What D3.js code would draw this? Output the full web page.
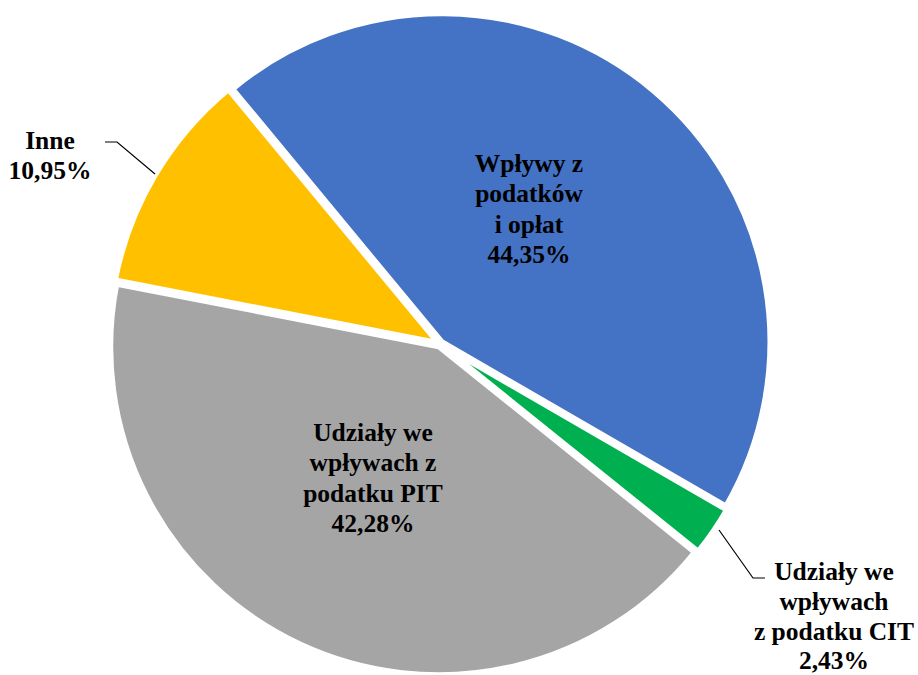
<!DOCTYPE html>
<html>
<head>
<meta charset="utf-8">
<script src="https://cdn.jsdelivr.net/npm/d3@7"></script>
<style>
  body { margin: 0; background: #fff; }
  text { font-family: "Liberation Serif", "Times New Roman", serif; font-weight: bold; }
</style>
</head>
<body>
<script>
// chart data
const categories = [
  "Wpływy z podatków i opłat",
  "Udziały we wpływach z podatku CIT",
  "Udziały we wpływach z podatku PIT",
  "Inne"
];
const values = [44.35, 2.43, 42.28, 10.95];
const labelLines = [
  ["Wpływy z", "podatków", "i opłat", "44,35%"],
  ["Udziały we", "wpływach", "z podatku CIT", "2,43%"],
  ["Udziały we", "wpływach z", "podatku PIT", "42,28%"],
  ["Inne", "10,95%"]
];
const colors = ["#4472C4", "#00B050", "#A5A5A5", "#FFC000"];

const svgWidth = 918,
  svgHeight = 675,
  cx = 440,
  cy = 344,
  radius = 328,
  explode = 3,
  lineH = 30.3;

const svg = d3.select('body')
  .append('svg')
  .attr('width', svgWidth)
  .attr('height', svgHeight);

const start = -39.6 * Math.PI / 180;
const pie = d3.pie()
  .sort(null)
  .startAngle(start)
  .endAngle(start + 2 * Math.PI);

const arcs = pie(values);
const arc = d3.arc().innerRadius(0).outerRadius(radius);

const g = svg.append('g')
  .attr('transform', `translate(${cx},${cy})`);

g.selectAll('path')
  .data(arcs)
  .enter()
  .append('path')
  .attr('d', arc)
  .attr('fill', (d, i) => colors[i])
  .attr('stroke', '#fff')
  .attr('stroke-width', 5)
  .attr('stroke-linejoin', 'miter')
  .attr('transform', d => {
    const m = (d.startAngle + d.endAngle) / 2;
    return `translate(${Math.sin(m) * explode},${-Math.cos(m) * explode})`;
  });

// label positions (centre of first line), in page coords
const labelPos = [
  [529, 163],
  [834, 571],
  [373, 432],
  [50, 140]
];

labelLines.forEach((lines, i) => {
  const t = svg.append('text')
    .attr('text-anchor', 'middle')
    .attr('font-size', 25.5)
    .attr('fill', '#000');
  lines.forEach((s, j) => {
    t.append('tspan')
      .attr('x', labelPos[i][0])
      .attr('y', labelPos[i][1] + j * (i === 1 ? 29.8 : lineH))
      .attr('dy', '0.35em')
      .text(s);
  });
});

// leader lines for outside labels
const leaders = [
  [[105, 142], [117, 142], [155, 174]],
  [[719, 530], [753, 578], [765, 578]]
];
leaders.forEach(pts => {
  svg.append('path')
    .attr('d', d3.line()(pts))
    .attr('fill', 'none')
    .attr('stroke', '#000')
    .attr('stroke-width', 1.2);
});
</script>
</body>
</html>
